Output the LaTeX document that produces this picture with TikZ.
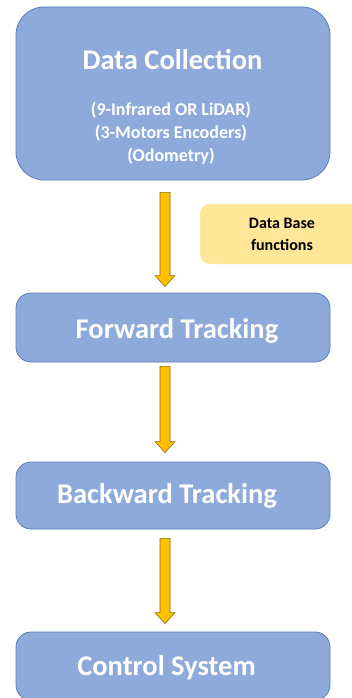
\documentclass[tikz,border=0pt]{standalone}
\usepackage{fontspec}
\setmainfont{Carlito}
\usetikzlibrary{calc}
\definecolor{boxfill}{HTML}{8EAADB}
\definecolor{boxline}{HTML}{5B7DB8}
\definecolor{arrfill}{HTML}{FFC000}
\definecolor{arrline}{HTML}{8C6D10}
\definecolor{notefill}{HTML}{FFE699}
\newcommand{\blockarrow}[2]{%
  \path let \p1=(#1), \p2=(#2) in
    [fill=arrfill, draw=arrline, line width=0.6pt, line join=miter]
    (\x1-5pt,\y1) -- (\x1+5pt,\y1) -- (\x1+5pt,\y2+11pt) -- (\x1+10pt,\y2+11pt)
    -- (\x1,\y2) -- (\x1-10pt,\y2+11pt) -- (\x1-5pt,\y2+11pt) -- cycle;}
\begin{document}
\begin{tikzpicture}[x=1pt,y=-1pt,
  stage/.style={draw=boxline, line width=0.8pt, fill=boxfill, rounded corners=15pt,
    minimum width=314pt, inner sep=0pt},
  titletext/.style={text=white, inner sep=0pt, font=\bfseries\fontsize{28.5}{32}\selectfont},
  detailtext/.style={text=white, inner sep=0pt, align=center, font=\bfseries\fontsize{18}{23}\selectfont},
  note/.style={fill=notefill, rounded corners=10pt, minimum width=164pt, minimum height=60pt,
    inner sep=0pt, align=center, font=\bfseries\fontsize{16}{22}\selectfont}]
\useasboundingbox (0,0) rectangle (352,698);
\clip (0,0) rectangle (352,698);
\fill[white] (0,0) rectangle (352,698);
\node[stage, minimum height=173pt, rounded corners=28pt] (dc) at (173,93.5) {};
\node[titletext] (dct) at (172.5,60) {Data Collection};
\node[detailtext] (dcd) at (171,133) {(9-Infrared OR LiDAR)\\(3-Motors Encoders)\\(Odometry)};
\node[note] (db) at (282,234) {Data Base\\functions};
\node[stage, minimum height=69pt] (ft) at (173,327.5) {};
\node[titletext] (ftt) at (177,331) {Forward Tracking};
\node[stage, minimum height=67pt] (bt) at (173,495.5) {};
\node[titletext] (btt) at (167,496) {Backward Tracking};
\node[stage, minimum height=68pt] (cs) at (173,666) {};
\node[titletext] (cst) at (166.5,668) {Control System};
\coordinate (a1s) at ($(dc.south)+(-8,12)$);
\coordinate (a1e) at ($(ft.north)+(-8,-6)$);
\coordinate (a2s) at ($(ft.south)+(-8,4)$);
\coordinate (a2e) at ($(bt.north)+(-8,-9)$);
\coordinate (a3s) at ($(bt.south)+(-8,9)$);
\coordinate (a3e) at ($(cs.north)+(-8,-8)$);
\blockarrow{a1s}{a1e}
\blockarrow{a2s}{a2e}
\blockarrow{a3s}{a3e}
\end{tikzpicture}
\end{document}
